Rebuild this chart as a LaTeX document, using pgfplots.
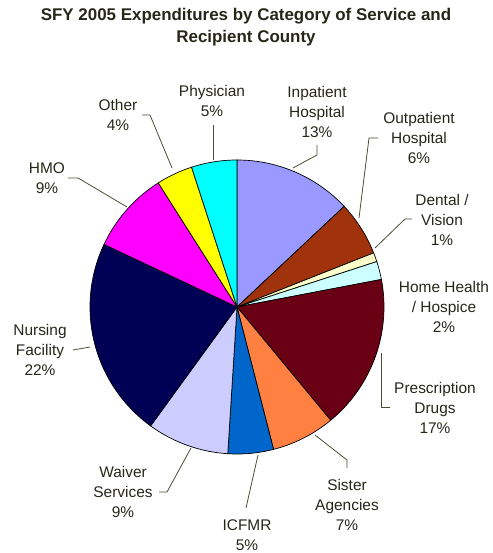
\documentclass[border=0pt]{standalone}
\usepackage{pgfplots}
\pgfplotsset{compat=1.18}
\usepackage{fontspec}
\setmainfont{Liberation Sans}
\definecolor{cInpat}{HTML}{9999FF}
\definecolor{cOutpat}{HTML}{A0320C}
\definecolor{cDental}{HTML}{FFFFCC}
\definecolor{cHome}{HTML}{CCFFFF}
\definecolor{cPresc}{HTML}{6A0014}
\definecolor{cSister}{HTML}{FF8040}
\definecolor{cICF}{HTML}{0066CC}
\definecolor{cWaiver}{HTML}{CCCCFF}
\definecolor{cNurs}{HTML}{000055}
\definecolor{cHMO}{HTML}{FF00FF}
\definecolor{cOther}{HTML}{FFFF00}
\definecolor{cPhys}{HTML}{00FFFF}
\definecolor{leader}{HTML}{4D4D33}
\definecolor{txt}{HTML}{262619}
\tikzset{
  lbl/.style={text=txt, font=\fontsize{15.5}{20.5}\selectfont, align=center, inner sep=0pt},
  ttl/.style={text=txt, font=\fontsize{17}{22}\selectfont\bfseries, align=center, inner sep=0pt},
}
% pie centre and radius (in picture units)
\newcommand{\cx}{237}
\newcommand{\cy}{246}
\newcommand{\rr}{147}
% \slice{cumulative start %}{share %}{colour}
\newcommand{\slice}[3]{%
  \addplot[draw=black, line width=0.7pt, fill=#3, domain={90-3.6*(#1+#2)}:{90-3.6*(#1)}, samples=60, variable=\t]
    ({\cx+\rr*cos(\t)},{\cy+\rr*sin(\t)}) -- (axis cs:\cx,\cy) -- cycle;}
\begin{document}
\begin{tikzpicture}
\begin{axis}[
  width=493bp, height=553bp, scale only axis,
  xmin=0, xmax=493, ymin=0, ymax=553,
  hide axis, clip=false,
]
\addplot[draw=none] coordinates {(0,0) (493,553)};
% shares in percent, clockwise from 12 o'clock
\slice{0}{13}{cInpat}
\slice{13}{6}{cOutpat}
\slice{19}{1}{cDental}
\slice{20}{2}{cHome}
\slice{22}{17}{cPresc}
\slice{39}{7}{cSister}
\slice{46}{5}{cICF}
\slice{51}{9}{cWaiver}
\slice{60}{22}{cNurs}
\slice{82}{9}{cHMO}
\slice{91}{4}{cOther}
\slice{95}{5}{cPhys}
% leader lines
\addplot[leader, line width=0.8pt] coordinates {(213,428) (213,393)};
\addplot[leader, line width=0.8pt] coordinates {(142,438) (150,438) (172,385)};
\addplot[leader, line width=0.8pt] coordinates {(317,408) (317,398) (293,385)};
\addplot[leader, line width=0.8pt] coordinates {(378,415) (369,415) (359,335)};
\addplot[leader, line width=0.8pt] coordinates {(412,334) (405,334) (375,305)};
\addplot[leader, line width=0.8pt] coordinates {(381,200) (381,146) (390,146)};
\addplot[leader, line width=0.8pt] coordinates {(347,85) (347,93) (315,118)};
\addplot[leader, line width=0.8pt] coordinates {(246,45) (258,98)};
\addplot[leader, line width=0.8pt] coordinates {(159,61) (167,61) (191,105)};
\addplot[leader, line width=0.8pt] coordinates {(73,203) (90,206)};
\addplot[leader, line width=0.8pt] coordinates {(68,375) (78,375) (127,346)};
% labels
\node[lbl] at (axis cs:212,452) {Physician\\5\%};
\node[lbl] at (axis cs:118,438) {Other\\4\%};
\node[lbl] at (axis cs:317,441) {Inpatient\\Hospital\\13\%};
\node[lbl] at (axis cs:419,415) {Outpatient\\Hospital\\6\%};
\node[lbl] at (axis cs:442,333) {Dental /\\Vision\\1\%};
\node[lbl] at (axis cs:444,246) {Home Health\\/ Hospice\\2\%};
\node[lbl] at (axis cs:435,145) {Prescription\\Drugs\\17\%};
\node[lbl] at (axis cs:347,48) {Sister\\Agencies\\7\%};
\node[lbl] at (axis cs:247,18) {ICFMR\\5\%};
\node[lbl] at (axis cs:123,61) {Waiver\\Services\\9\%};
\node[lbl] at (axis cs:40,203) {Nursing\\Facility\\22\%};
\node[lbl] at (axis cs:47,375) {HMO\\9\%};
% title
\node[ttl] at (axis cs:246,526) {SFY 2005 Expenditures by Category of Service and\\Recipient County};
\end{axis}
\end{tikzpicture}
\end{document}
